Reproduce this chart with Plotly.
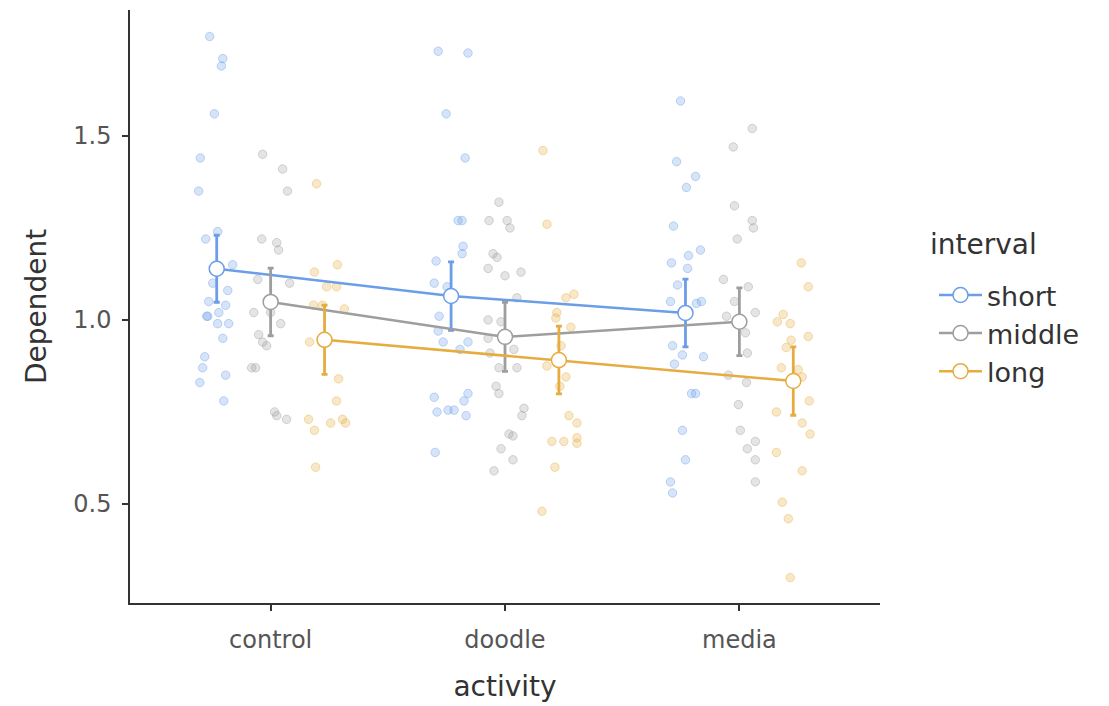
import plotly.graph_objects as go

activities = ["control", "doodle", "media"]
intervals = ["short", "middle", "long"]
colors = {"short": "#6B9DE8", "middle": "#9E9E9E", "long": "#E6AC40"}
fills = {"short": "rgba(107,157,232,0.28)", "middle": "rgba(158,158,158,0.28)", "long": "rgba(230,172,64,0.28)"}
edges = {"short": "rgba(107,157,232,0.40)", "middle": "rgba(158,158,158,0.40)", "long": "rgba(230,172,64,0.40)"}

# summary values (mean and 95% CI half-width)
mean_short = [1.139, 1.065, 1.019]
mean_middle = [1.049, 0.954, 0.995]
mean_long = [0.946, 0.891, 0.834]
ci_short = [0.091, 0.093, 0.092]
ci_middle = [0.092, 0.094, 0.092]
ci_long = [0.094, 0.092, 0.093]

# raw observations (values) and horizontal jitter (category units)
short_control = [1.77, 1.71, 1.69, 1.56, 1.44, 1.35, 1.24, 1.22, 1.15, 1.10, 1.08, 1.05, 1.04, 1.01, 1.01, 1.02,
                 0.99, 0.99, 0.95, 0.90, 0.87, 0.85, 0.83, 0.78]
short_control_jit = [-0.03, 0.026, 0.02, -0.01, -0.07, -0.077, 0.004, -0.047, 0.068, -0.017, 0.047, -0.034, 0.038,
                     -0.038, -0.043, 0.009, 0.004, 0.051, 0.026, -0.051, -0.06, 0.038, -0.072, 0.03]
short_doodle = [1.73, 1.725, 1.56, 1.44, 1.27, 1.27, 1.20, 1.18, 1.16, 1.10, 1.09, 1.01, 0.97, 0.94, 0.94, 0.92,
                0.79, 0.75, 0.755, 0.755, 0.78, 0.80, 0.74, 0.64]
short_doodle_jit = [-0.055, 0.072, -0.021, 0.06, 0.03, 0.047, 0.051, 0.047, -0.064, -0.072, -0.017, -0.051, -0.055,
                    -0.034, 0.072, 0.038, -0.072, -0.06, -0.013, 0.013, 0.055, 0.072, 0.064, -0.068]
short_media = [1.595, 1.43, 1.39, 1.36, 1.255, 1.19, 1.175, 1.155, 1.14, 1.095, 1.05, 1.05, 1.045, 0.93, 0.905,
               0.90, 0.88, 0.80, 0.80, 0.70, 0.62, 0.56, 0.53]
short_media_jit = [-0.021, -0.038, 0.043, 0.004, -0.051, 0.064, 0.013, -0.06, 0.009, -0.034, -0.064, 0.068, 0.047,
                   -0.055, -0.013, 0.077, -0.047, 0.043, 0.026, -0.013, 0.0, -0.064, -0.055]

middle_control = [1.45, 1.41, 1.35, 1.22, 1.21, 1.19, 1.11, 1.10, 1.02, 1.02, 0.99, 0.96, 0.94, 0.93, 0.87, 0.87,
                  0.75, 0.74, 0.73]
middle_control_jit = [-0.034, 0.051, 0.072, -0.038, 0.026, 0.034, -0.055, 0.081, -0.072, 0.0, 0.043, -0.051,
                      -0.034, -0.017, -0.064, -0.081, 0.017, 0.026, 0.068]
middle_doodle = [1.32, 1.27, 1.27, 1.25, 1.18, 1.17, 1.14, 1.12, 1.13, 1.06, 1.00, 0.995, 0.95, 0.92, 0.91, 0.87,
                 0.87, 0.82, 0.80, 0.76, 0.74, 0.69, 0.685, 0.65, 0.62, 0.59]
middle_doodle_jit = [-0.026, -0.068, 0.009, 0.021, -0.051, -0.034, -0.072, 0.0, 0.068, 0.051, -0.072, -0.017,
                     -0.072, 0.038, -0.064, -0.026, 0.051, -0.038, -0.026, 0.081, 0.072, 0.017, 0.034, -0.017,
                     0.034, -0.047]
middle_media = [1.52, 1.47, 1.31, 1.27, 1.25, 1.22, 1.11, 1.09, 1.05, 1.02, 1.01, 0.965, 0.91, 0.85, 0.83, 0.77,
                0.70, 0.67, 0.65, 0.62, 0.56]
middle_media_jit = [0.055, -0.026, -0.021, 0.055, 0.06, -0.009, -0.068, 0.038, -0.021, 0.068, -0.055, 0.026,
                    0.034, -0.047, 0.03, -0.004, 0.004, 0.068, 0.034, 0.068, 0.068]

long_control = [1.37, 1.15, 1.13, 1.09, 1.09, 1.04, 1.04, 1.03, 0.94, 0.84, 0.78, 0.73, 0.70, 0.72, 0.73, 0.72, 0.60]
long_control_jit = [-0.034, 0.055, -0.043, 0.009, 0.051, -0.047, -0.009, 0.085, -0.064, 0.06, 0.051, -0.068,
                    -0.043, 0.026, 0.077, 0.09, -0.038]
long_doodle = [1.46, 1.26, 1.07, 1.06, 1.02, 1.005, 0.98, 0.93, 0.875, 0.845, 0.82, 0.74, 0.72, 0.67, 0.67, 0.665,
               0.68, 0.60, 0.48]
long_doodle_jit = [-0.068, -0.051, 0.064, 0.03, -0.009, -0.013, 0.051, 0.009, -0.051, 0.03, 0.004, 0.043, 0.077,
                   -0.03, 0.021, 0.077, 0.077, -0.017, -0.072]
long_media = [1.155, 1.09, 0.955, 1.015, 0.995, 0.99, 0.945, 0.925, 0.87, 0.865, 0.845, 0.78, 0.75, 0.72, 0.69,
              0.64, 0.59, 0.505, 0.46, 0.30]
long_media_jit = [0.034, 0.064, 0.064, -0.043, -0.068, -0.013, -0.009, -0.03, -0.051, 0.021, 0.038, 0.068, -0.072,
                  0.038, 0.072, -0.072, 0.038, -0.047, -0.021, -0.013]

raw = {
    "short": [(short_control, short_control_jit), (short_doodle, short_doodle_jit), (short_media, short_media_jit)],
    "middle": [(middle_control, middle_control_jit), (middle_doodle, middle_doodle_jit), (middle_media, middle_media_jit)],
    "long": [(long_control, long_control_jit), (long_doodle, long_doodle_jit), (long_media, long_media_jit)],
}
means = {"short": mean_short, "middle": mean_middle, "long": mean_long}
cis = {"short": ci_short, "middle": ci_middle, "long": ci_long}
dodge = {"short": -0.23, "middle": 0.0, "long": 0.23}

fig = go.Figure()

for name in intervals:
    xs, ys = [], []
    for i, (vals, jit) in enumerate(raw[name]):
        for v, j in zip(vals, jit):
            xs.append(i + dodge[name] + j)
            ys.append(v)
    fig.add_trace(go.Scatter(
        x=xs, y=ys, mode="markers", showlegend=False, hoverinfo="skip",
        marker=dict(size=8.5, color=fills[name], line=dict(color=edges[name], width=1)),
    ))

for name in intervals:
    fig.add_trace(go.Scatter(
        x=[i + dodge[name] for i in range(len(activities))], y=means[name],
        mode="lines+markers", name=name,
        line=dict(color=colors[name], width=2.5),
        marker=dict(size=15, color="white", line=dict(color=colors[name], width=1.5)),
        error_y=dict(type="data", array=cis[name], visible=True, color=colors[name], thickness=2.8, width=3),
    ))

font_family = "DejaVu Sans, Verdana, sans-serif"
fig.update_layout(
    width=1109, height=706,
    margin=dict(l=122, r=237, t=2, b=111),
    paper_bgcolor="white", plot_bgcolor="white",
    font=dict(family=font_family, color="#333333"),
    xaxis=dict(
        range=[-0.6, 2.6], tickmode="array", tickvals=[0, 1, 2], ticktext=activities,
        showgrid=False, zeroline=False, showline=True, linecolor="#333333", linewidth=1.5,
        ticks="outside", ticklen=6, tickwidth=1.5, tickcolor="#333333",
        tickfont=dict(size=24, color="#555555"), ticklabelstandoff=8,
        title=dict(text="activity", font=dict(size=28, color="#333333"), standoff=24),
    ),
    yaxis=dict(
        range=[0.231, 1.842], tickmode="array", tickvals=[0.5, 1.0, 1.5], ticktext=["0.5", "1.0", "1.5"],
        showgrid=False, zeroline=False, showline=True, linecolor="#333333", linewidth=1.5,
        ticks="outside", ticklen=6, tickwidth=1.5, tickcolor="#333333",
        tickfont=dict(size=24, color="#555555"), ticklabelstandoff=6,
        title=dict(text="Dependent", font=dict(size=28, color="#333333"), standoff=18),
    ),
    legend=dict(
        x=1.072, xanchor="left", y=0.56, yanchor="top",
        font=dict(size=27, color="#333333"), itemwidth=43,
        bgcolor="rgba(0,0,0,0)", tracegroupgap=0,
    ),
    annotations=[dict(
        text="interval", xref="paper", yref="paper", x=1.064, y=0.605,
        xanchor="left", yanchor="middle", showarrow=False,
        font=dict(size=28, color="#333333", family=font_family),
    )],
)

fig.write_html("out.html")
